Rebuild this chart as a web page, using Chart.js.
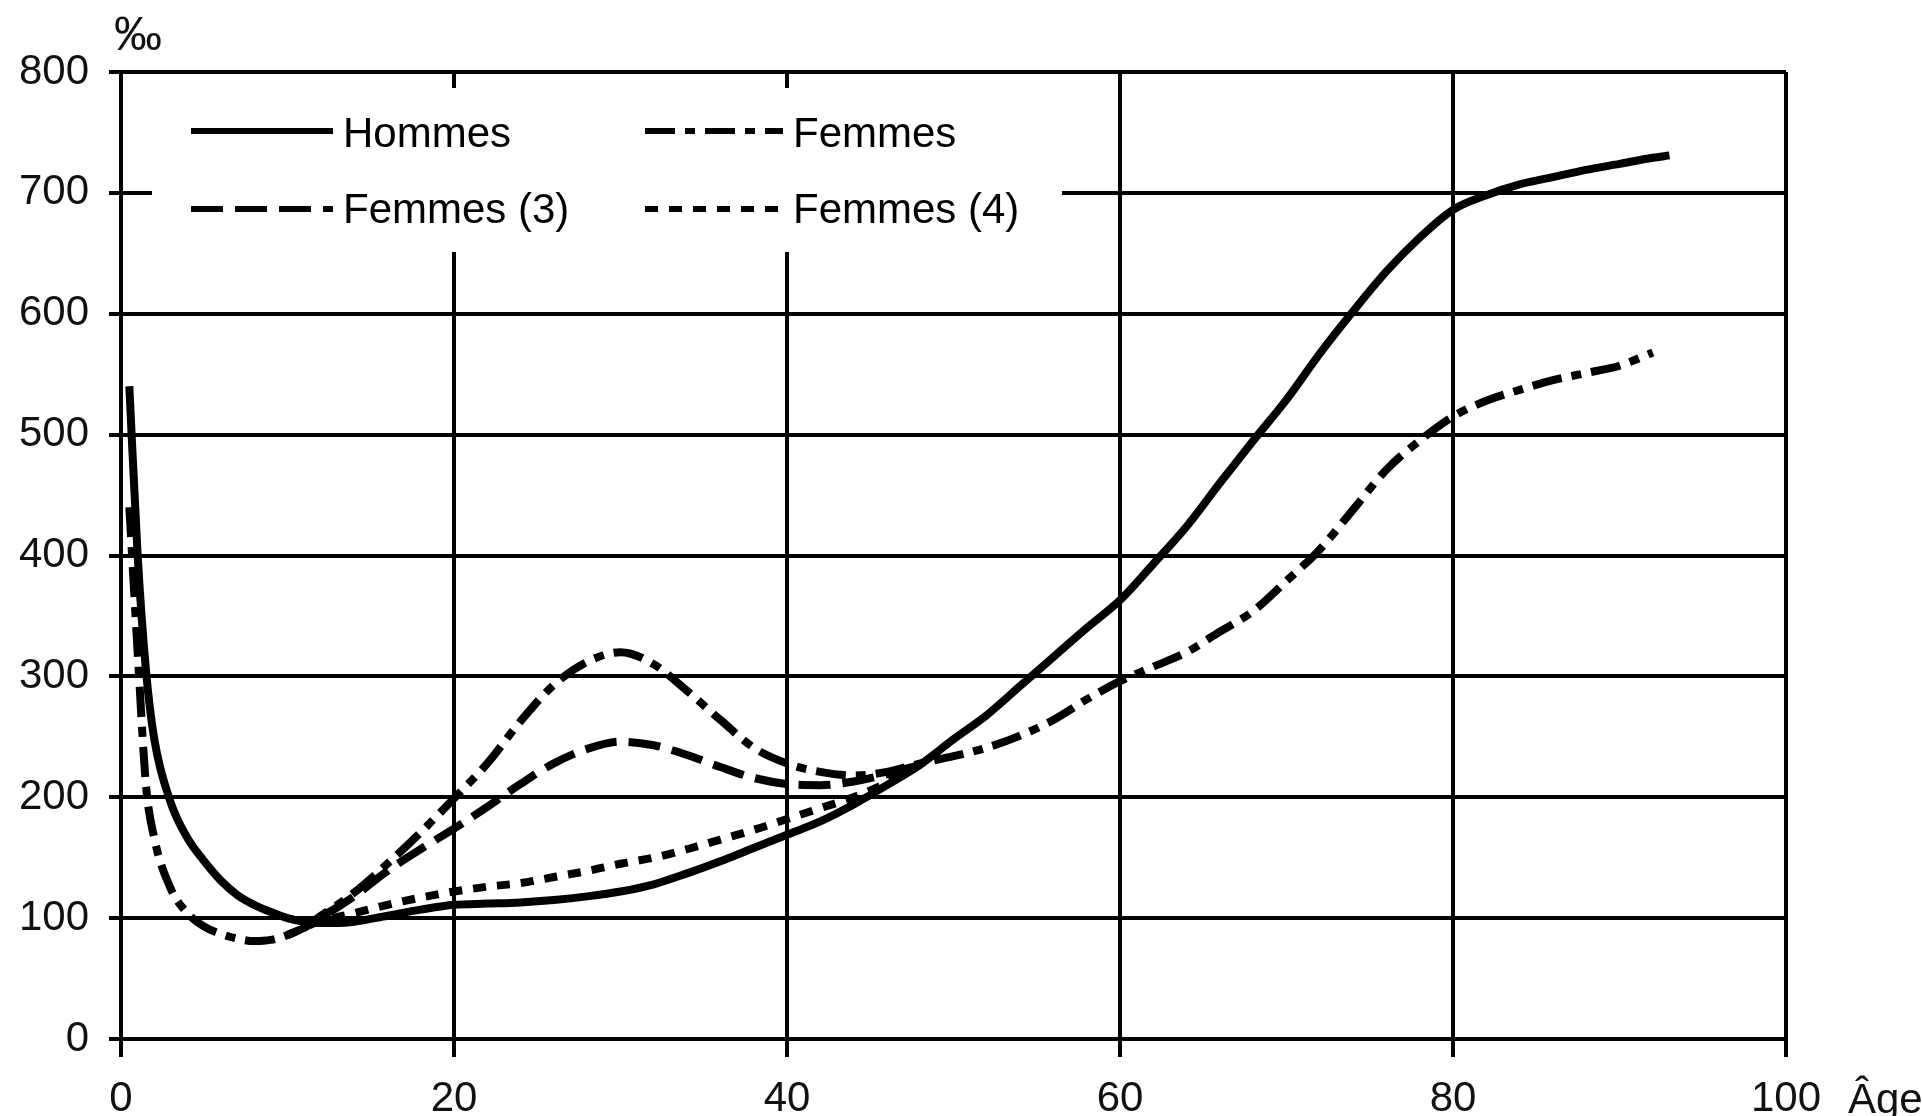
<!DOCTYPE html>
<html lang="fr">
<head>
<meta charset="utf-8">
<title>Quotients par âge</title>
<script src="https://cdn.jsdelivr.net/npm/chart.js"></script>
<style>
  html, body { margin: 0; padding: 0; background: #fff; }
  canvas { display: block; }
</style>
</head>
<body>
<canvas id="grafico" width="1922" height="1116"></canvas>
<script>
// ages (x) et valeurs en pour mille
const ages = [0.5, 1, 1.5, 2, 3, 4, 5, 6, 7, 8, 9, 10, 11, 12, 13, 14, 16, 18, 20, 22,
  24, 26, 28, 30, 32, 34, 36, 38, 40, 42, 44, 46, 48, 50, 52, 54, 56, 58, 60, 62,
  64, 66, 68, 70, 72, 74, 76, 78, 80, 82, 84, 86, 88, 90, 92, 93];

const hommes = [540, 400, 305, 248, 195, 166, 147, 131, 119, 111, 105, 100, 97, 96, 96, 97, 102, 107, 111, 112,
  113, 115, 118, 122, 128, 137, 147, 158, 169, 180, 194, 210, 227, 248, 268, 292, 316, 340, 363, 393,
  424, 460, 495, 529, 567, 602, 635, 663, 686, 698, 707, 713, 719, 724, 729, 731];

const femmes = [440, 320, 210, 166, 124, 104, 93, 87, 83, 81, 82, 86, 92, 102, 111, 121, 145, 171, 199, 228,
  263, 293, 312, 320, 310, 288, 264, 241, 228, 221, 218, 221, 228, 234, 241, 251, 264, 281, 296, 308,
  320, 337, 354, 379, 405, 438, 471, 495, 515, 528, 537, 545, 551, 557, 568, null];

const femmes3 = [null, null, null, null, null, null, null, null, null, null, null, 86, 92, 101, 109, 118, 139, 157, 174, 192,
  211, 228, 240, 246, 243, 235, 225, 216, 211, 210, 213, 219, 227, null, null, null, null, null, null, null,
  null, null, null, null, null, null, null, null, null, null, null, null, null, null, null, null];

const femmes4 = [null, null, null, null, null, null, null, null, null, null, null, 86, 92, 98, 101, 104, 111, 117, 122, 126,
  129, 134, 139, 145, 150, 157, 165, 173, 182, 191, 200, 212, 227, null, null, null, null, null, null, null,
  null, null, null, null, null, null, null, null, null, null, null, null, null, null, null, null];

const etiquettes = ['Hommes', 'Femmes', 'Femmes (3)', 'Femmes (4)'];
const titreX = 'Âge';
const titreY = '‰';

const police = '"Liberation Sans", Arial, sans-serif';

function puntos(valores){
    return ages.map((a, i) => ({ x: a, y: valores[i] })).filter(p => p.y !== null);
}

function serie(label, valores, trazo){
    return {
        label: label,
        data: puntos(valores),
        borderColor: '#000',
        borderWidth: 8,
        borderDash: trazo,
        borderCapStyle: 'butt',
        cubicInterpolationMode: 'monotone',
        pointRadius: 0,
        fill: false
    };
}

/* leyenda dentro del área, fondo blanco, y títulos de ejes */
const leyenda = {
    id: 'leyenda',
    afterDraw(chart){
        const ctx = chart.ctx;
        const a = chart.chartArea;
        ctx.save();
        ctx.fillStyle = '#fff';
        ctx.fillRect(a.left + 31, a.top + 16, 910, 164);

        const filas = [147, 223];
        const lineasY = [131, 209];
        const cols = [{ x0: 191, x1: 333, tx: 343 }, { x0: 645, x1: 783, tx: 793 }];
        ctx.font = '42px ' + police;
        ctx.textBaseline = 'alphabetic';
        ctx.textAlign = 'left';
        chart.data.datasets.forEach((ds, i) => {
            const c = cols[i % 2];
            const f = Math.floor(i / 2);
            ctx.strokeStyle = '#000';
            ctx.lineWidth = 6;
            ctx.lineCap = 'butt';
            ctx.setLineDash(ds.borderDash);
            ctx.beginPath();
            ctx.moveTo(c.x0, lineasY[f]);
            ctx.lineTo(c.x1, lineasY[f]);
            ctx.stroke();
            ctx.setLineDash([]);
            ctx.fillStyle = '#000';
            ctx.fillText(ds.label, c.tx, filas[f]);
        });

        ctx.fillStyle = '#111';
        ctx.font = '42px ' + police;
        ctx.fillText(titreX, 1848, 1113);
        ctx.font = '48px ' + police;
        ctx.fillText(titreY, 114, 50);
        ctx.restore();
    }
};

new Chart(document.getElementById('grafico'), {
    type: 'line',
    data: {
        datasets: [
            serie(etiquettes[0], hommes, []),
            serie(etiquettes[1], femmes, [30, 10, 10, 10]),
            serie(etiquettes[2], femmes3, [32, 12]),
            serie(etiquettes[3], femmes4, [13, 11])
        ]
    },
    options: {
        responsive: false,
        animation: false,
        devicePixelRatio: 1,
        layout: {
            padding: { left: 0, top: 72, right: 136, bottom: 0 }
        },
        plugins: {
            legend: { display: false },
            tooltip: { enabled: false }
        },
        scales: {
            x: {
                type: 'linear',
                min: 0,
                max: 100,
                afterFit: s => { s.height = 77; },
                ticks: {
                    stepSize: 20,
                    color: '#111',
                    padding: 17,
                    maxRotation: 0,
                    font: { family: police, size: 42 }
                },
                grid: { color: '#000', lineWidth: 4, tickLength: 18 },
                border: { color: '#000', width: 4 }
            },
            y: {
                min: 0,
                max: 800,
                afterFit: s => { s.width = 121; },
                ticks: {
                    stepSize: 100,
                    color: '#111',
                    padding: 20,
                    font: { family: police, size: 42 }
                },
                grid: { color: '#000', lineWidth: 4, tickLength: 12 },
                border: { color: '#000', width: 4 }
            }
        }
    },
    plugins: [leyenda]
});
</script>
</body>
</html>
